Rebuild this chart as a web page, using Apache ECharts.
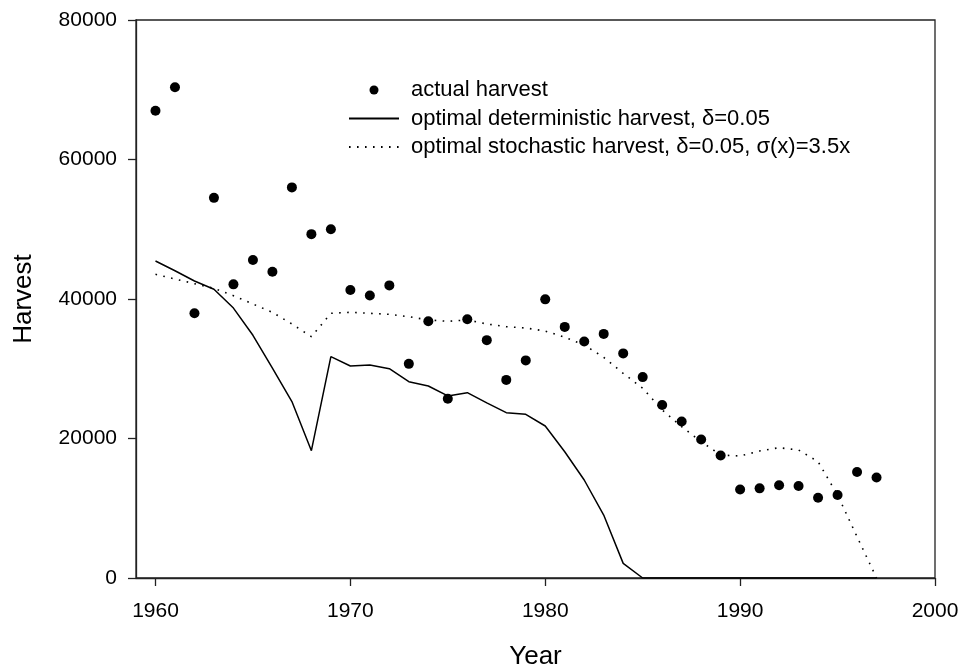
<!DOCTYPE html>
<html>
<head>
<meta charset="utf-8">
<script src="https://cdn.jsdelivr.net/npm/echarts@6/dist/echarts.min.js"></script>
<style>html,body{margin:0;padding:0;background:#fff}#c{width:964px;height:670px}</style>
</head>
<body>
<div id="c"></div>
<script>
var years = [1960,1961,1962,1963,1964,1965,1966,1967,1968,1969,1970,1971,1972,1973,1974,1975,1976,1977,1978,1979,1980,1981,1982,1983,1984,1985,1986,1987,1988,1989,1990,1991,1992,1993,1994,1995,1996,1997];
var actualHarvest = [67000,70350,37950,54500,42100,45600,43900,56000,49300,50000,41300,40500,41950,30700,36800,25700,37100,34100,28400,31200,39950,36000,33900,35000,32200,28800,24800,22450,19850,17550,12700,12850,13300,13200,11500,11900,15200,14400];
var deterministicHarvest = [45450,44050,42580,41400,38700,34800,30100,25300,18250,31730,30400,30540,30010,28150,27530,26100,26570,25100,23700,23470,21790,18100,14050,9030,2100,0,0,0,0,0,0,0,0,0,0,0,0,0];
var stochasticHarvest = [43540,42870,42200,41530,40480,39280,38090,36420,34600,37950,38090,37950,37800,37460,37000,36800,37000,36420,36030,35840,35410,34510,33400,31640,29350,27200,24090,21700,19550,17630,17490,18210,18680,18350,16680,11900,5920,0];
var xTicks = [1960,1970,1980,1990,2000];
var seriesNames = ['actual harvest','optimal deterministic harvest, \u03b4=0.05','optimal stochastic harvest, \u03b4=0.05, \u03c3(x)=3.5x'];

function pairs(vals){ return years.map(function(y,i){ return [y, vals[i]]; }); }

var FONT = "'Liberation Sans', Arial, sans-serif";
var chart = echarts.init(document.getElementById('c'));
chart.setOption({
  animation: false,
  backgroundColor: '#fff',
  textStyle: {fontFamily: FONT, color: '#000'},
  grid: {left: 136, right: 29, top: 20, bottom: 92, outerBoundsMode: 'none', containLabel: false, show: true, borderColor: '#222', borderWidth: 1.3, backgroundColor: 'transparent'},
  legend: {
    orient: 'vertical', left: 343, top: 74, padding: 5,
    itemWidth: 50, itemHeight: 9, itemGap: 6.5,
    textStyle: {fontFamily: FONT, fontSize: 22, color: '#000', padding: [0,0,0,7]},
    data: [
      {name: seriesNames[0]},
      {name: seriesNames[1], itemStyle: {opacity: 0}},
      {name: seriesNames[2], itemStyle: {opacity: 0}}
    ]
  },
  xAxis: {
    type: 'value', min: 1959, max: 2000,
    name: 'Year', nameLocation: 'middle', nameGap: 66,
    nameTextStyle: {fontFamily: FONT, fontSize: 26, color: '#000'},
    axisLine: {show: true, onZero: false, lineStyle: {color: '#222', width: 1.3}},
    axisTick: {show: true, inside: false, length: 8, customValues: xTicks, lineStyle: {color: '#222', width: 1.3}},
    axisLabel: {fontFamily: FONT, fontSize: 21, color: '#000', margin: 23, customValues: xTicks, formatter: function(v){return String(v);}},
    splitLine: {show: false}
  },
  yAxis: {
    type: 'value', min: 0, max: 80000, interval: 20000,
    name: 'Harvest', nameLocation: 'middle', nameGap: 99,
    nameTextStyle: {fontFamily: FONT, fontSize: 26, color: '#000'},
    axisLine: {show: true, lineStyle: {color: '#222', width: 1.3}},
    axisTick: {show: true, inside: false, length: 8, lineStyle: {color: '#222', width: 1.3}},
    axisLabel: {fontFamily: FONT, fontSize: 21, color: '#000', margin: 19, formatter: function(v){return String(v);}},
    splitLine: {show: false}
  },
  series: [
    {name: seriesNames[0], type: 'scatter', data: pairs(actualHarvest), symbol: 'circle', symbolSize: 10, itemStyle: {color: '#000', opacity: 1}, z: 3},
    {name: seriesNames[1], type: 'line', data: pairs(deterministicHarvest), symbol: 'none', showSymbol: false, lineStyle: {color: '#000', width: 1.5, type: 'solid'}, itemStyle: {color: '#000'}, z: 2},
    {name: seriesNames[2], type: 'line', data: pairs(stochasticHarvest), symbol: 'none', showSymbol: false, lineStyle: {color: '#000', width: 1.6, type: [1.6, 6.4]}, itemStyle: {color: '#000'}, z: 2}
  ]
});
</script>
</body>
</html>
